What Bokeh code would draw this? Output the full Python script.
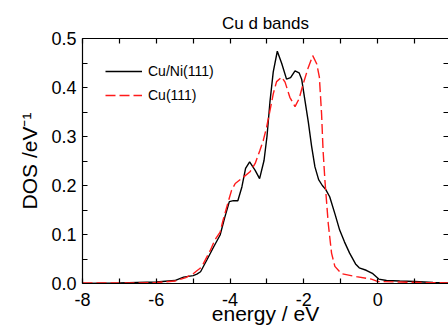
from bokeh.plotting import figure
from bokeh.models import (FixedTicker, LinearAxis, Range1d, Legend, LegendItem,
                          NumeralTickFormatter, ColumnDataSource)
from bokeh.embed import file_html
from bokeh.resources import INLINE

# ---- data ----
energy_cuni = [-8.0, -7.5, -7.0, -6.5, -6.0, -5.5, -5.26, -5.0, -4.9, -4.8, -4.63,
               -4.45, -4.27, -4.14, -4.02, -3.91, -3.79, -3.68, -3.58, -3.47, -3.32,
               -3.2, -3.08, -3.0, -2.92, -2.83, -2.72, -2.6, -2.47, -2.36, -2.24,
               -2.13, -2.06, -1.97, -1.88, -1.79, -1.70, -1.60, -1.50, -1.41, -1.30,
               -1.15, -1.03, -0.9, -0.76, -0.6, -0.5, -0.31, -0.13, 0.03, 0.24, 0.6,
               1.0, 1.5, 2.0]
dos_cuni = [0.0, 0.0005, 0.001, 0.002, 0.003, 0.006, 0.013, 0.016, 0.019, 0.024, 0.048,
            0.074, 0.099, 0.136, 0.167, 0.169, 0.169, 0.197, 0.235, 0.248, 0.231,
            0.214, 0.251, 0.30, 0.37, 0.432, 0.474, 0.449, 0.417, 0.42, 0.434,
            0.43, 0.417, 0.373, 0.33, 0.28, 0.238, 0.212, 0.200, 0.192, 0.177,
            0.14, 0.109, 0.085, 0.062, 0.04, 0.032, 0.027, 0.02, 0.009, 0.006, 0.005,
            0.004, 0.002, 0.001]

energy_cu = [-8.0, -7.0, -6.5, -6.0, -5.5, -5.2, -5.0, -4.9, -4.81, -4.72, -4.54, -4.41,
             -4.27, -4.19, -4.05, -3.96, -3.86, -3.64, -3.46, -3.32, -3.19, -3.1, -3.01,
             -2.9, -2.83, -2.74, -2.6, -2.51, -2.38, -2.24, -2.13, -2.02, -1.88, -1.76,
             -1.65, -1.58, -1.52, -1.48, -1.43, -1.34, -1.25, -1.16, -0.98, -0.58,
             -0.17, 0.01, 0.6, 1.2, 2.0]
dos_cu = [0.001, 0.001, 0.001, 0.002, 0.005, 0.012, 0.02, 0.026, 0.031, 0.041, 0.067, 0.089,
          0.105, 0.129, 0.167, 0.19, 0.204, 0.217, 0.228, 0.245, 0.272, 0.292, 0.319,
          0.36, 0.387, 0.412, 0.421, 0.411, 0.38, 0.361, 0.377, 0.407, 0.441, 0.465,
          0.448, 0.421, 0.346, 0.272, 0.211, 0.123, 0.062, 0.035, 0.020, 0.014,
          0.009, 0.004, 0.003, 0.002, 0.001]

series_labels = ["Cu/Ni(111)", "Cu(111)"]
x_ticks = [-8, -6, -4, -2, 0, 2]
x_minor = [-7, -5, -3, -1, 1]
y_ticks = [0.0, 0.1, 0.2, 0.3, 0.4, 0.5]
y_minor = [0.05, 0.15, 0.25, 0.35, 0.45]
title_text = "Cu d bands"
x_label = "energy / eV"
y_label = "DOS /eV\u207b\u00b9"

FONT = "Liberation Sans"

p = figure(width=448, height=327, output_backend="svg", toolbar_location=None,
           x_range=Range1d(-8, 1.92), y_range=Range1d(0, 0.5),
           x_axis_location=None, y_axis_location=None,
           min_border_left=82, min_border_right=0, min_border_top=38, min_border_bottom=0,
           outline_line_color=None, background_fill_color="white",
           border_fill_color="white")
p.grid.visible = False

p.title.text = title_text
p.title.align = "center"
p.title.text_font = FONT
p.title.text_font_size = "17px"
p.title.text_font_style = "normal"
p.title.text_color = "black"
p.title.standoff = 12


def style_axis(ax, line=True):
    ax.axis_line_color = "black" if line else None
    ax.axis_line_width = 1.2
    ax.major_tick_in = 5
    ax.major_tick_out = 0
    ax.minor_tick_in = 5
    ax.minor_tick_out = 0
    ax.major_tick_line_color = "black"
    ax.minor_tick_line_color = "black"
    ax.major_tick_line_width = 1.2
    ax.minor_tick_line_width = 1.2
    ax.major_label_text_font = FONT
    ax.major_label_text_font_size = "18px"
    ax.major_label_text_color = "black"
    ax.axis_label_text_font = FONT
    ax.axis_label_text_font_size = "21px"
    ax.axis_label_text_font_style = "normal"
    ax.axis_label_text_color = "black"


bottom = LinearAxis(ticker=FixedTicker(ticks=x_ticks, minor_ticks=x_minor), axis_label=x_label)
style_axis(bottom)
bottom.major_label_standoff = 9
bottom.axis_label_standoff = -7
bottom.major_label_overrides = {v: str(v) for v in x_ticks}
p.add_layout(bottom, "below")

left = LinearAxis(ticker=FixedTicker(ticks=y_ticks, minor_ticks=y_minor), axis_label=y_label,
                  formatter=NumeralTickFormatter(format="0.0"))
style_axis(left)
left.major_label_standoff = 6
left.axis_label_standoff = 7
p.add_layout(left, "left")

# mirrored frame axes: ticks only (all as unlabeled minor ticks)
top = LinearAxis(ticker=FixedTicker(ticks=[], minor_ticks=x_ticks + x_minor))
style_axis(top)
top.major_label_standoff = 0
p.add_layout(top, "above")

right = LinearAxis(ticker=FixedTicker(ticks=[], minor_ticks=y_ticks + y_minor))
style_axis(right, line=False)
right.major_label_standoff = 0
p.add_layout(right, "right")

src1 = ColumnDataSource(dict(x=energy_cuni, y=dos_cuni))
src2 = ColumnDataSource(dict(x=energy_cu, y=dos_cu))
r1 = p.line("x", "y", source=src1, line_color="black", line_width=1.4)
r2 = p.line("x", "y", source=src2, line_color="#ff1a1a", line_width=1.4, line_dash="10 4")

legend = Legend(items=[LegendItem(label=series_labels[0], renderers=[r1]),
                       LegendItem(label=series_labels[1], renderers=[r2])],
                location="top_left", border_line_color=None, background_fill_alpha=0,
                label_text_font=FONT, label_text_font_size="14px", label_text_color="black",
                glyph_width=37, glyph_height=20, label_height=20, label_standoff=6,
                spacing=4, padding=0, margin=23)
p.add_layout(legend)

open("out.html", "w").write(file_html(p, INLINE))
